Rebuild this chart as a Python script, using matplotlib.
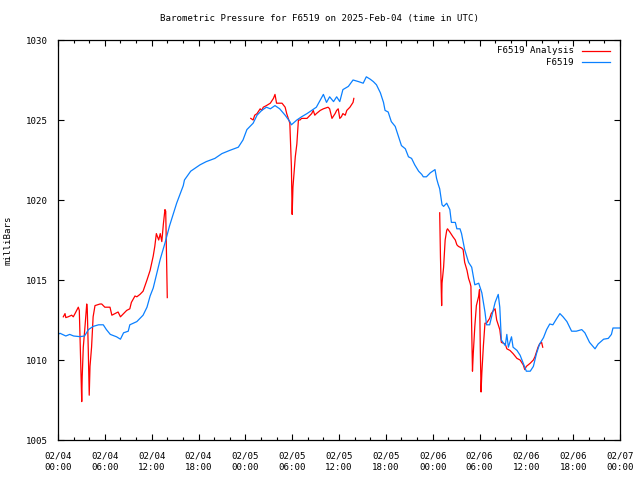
import matplotlib
matplotlib.use("Agg")
import matplotlib.pyplot as plt
import numpy as np

plt.rcParams['font.family'] = ['DejaVu Sans Mono']
plt.rcParams['font.size'] = 6.6

# hours since 02/04 00:00 UTC
blue_h = [0.0, 0.26, 1.0, 1.5, 2.0, 2.8, 3.4, 3.9, 4.5, 5.2, 5.8, 6.2, 6.7, 7.5, 8.0, 8.4,
          9.0, 9.2, 10.1, 10.9, 11.4, 11.8, 12.2, 12.6, 13.1, 13.7, 14.3, 15.2, 16.05, 16.2,
          17.0, 18.2, 19.0, 20.1, 21.0, 22.0, 23.1, 23.7, 24.2, 24.6, 25.0, 25.5, 26.1, 26.7,
          27.2, 27.8, 28.4, 29.1, 29.7, 29.9, 30.6, 31.2, 31.9, 32.5, 33.1, 33.6, 34.0, 34.4,
          34.8, 35.3, 35.7, 36.1, 36.5, 37.2, 37.8, 38.5, 39.1, 39.5, 40.0, 40.4, 40.8, 41.3,
          41.7, 41.9, 42.3, 42.7, 43.2, 43.6, 44.0, 44.5, 44.9, 45.3, 45.7, 46.2, 46.6, 46.8,
          47.2, 47.7, 48.3, 48.5, 48.7, 48.9, 49.2, 49.4, 49.8, 50.2, 50.4, 50.9, 51.1, 51.5,
          51.7, 52.1, 52.6, 53.0, 53.4, 53.9, 54.3, 54.7, 54.9, 55.3, 55.5, 56.0, 56.4, 56.6,
          56.8, 57.3, 57.5, 57.7, 58.1, 58.3, 58.8, 59.2, 59.6, 60.0, 60.5, 60.9, 61.3, 61.7,
          62.2, 62.6, 63.0, 63.4, 63.9, 64.3, 64.7, 65.2, 65.8, 66.4, 67.1, 67.5, 68.1, 68.8,
          69.2, 69.9, 70.5, 70.9, 71.1, 71.8, 72.0]
blue_p = [1011.6, 1011.67, 1011.5, 1011.6, 1011.5, 1011.46, 1011.5, 1011.9, 1012.1, 1012.2,
          1012.2, 1011.9, 1011.6, 1011.45, 1011.3, 1011.7, 1011.8, 1012.2, 1012.4, 1012.8,
          1013.3, 1014.0, 1014.5, 1015.3, 1016.3, 1017.3, 1018.4, 1019.8, 1020.9, 1021.25,
          1021.8, 1022.2, 1022.4, 1022.6, 1022.9, 1023.1, 1023.3, 1023.75, 1024.4, 1024.6,
          1024.8, 1025.3, 1025.6, 1025.8, 1025.7, 1025.9, 1025.7, 1025.3, 1024.9, 1024.7,
          1025.0, 1025.2, 1025.4, 1025.6, 1025.8, 1026.25, 1026.6, 1026.1, 1026.45, 1026.15,
          1026.45, 1026.15, 1026.9, 1027.1, 1027.5, 1027.4, 1027.3, 1027.7, 1027.55, 1027.4,
          1027.2, 1026.7, 1026.1, 1025.6, 1025.5, 1024.9, 1024.6, 1024.0, 1023.4, 1023.2,
          1022.7, 1022.6, 1022.2, 1021.8, 1021.6, 1021.45, 1021.45, 1021.7, 1021.9, 1021.35,
          1021.0, 1020.7, 1019.7, 1019.6, 1019.8, 1019.4, 1018.6, 1018.6, 1018.2, 1018.2,
          1017.9, 1016.9, 1016.1, 1015.8, 1014.7, 1014.8, 1014.2, 1013.0, 1012.2, 1012.2,
          1012.6, 1013.6, 1014.1, 1013.3, 1011.25, 1010.9, 1011.6, 1010.8, 1011.45, 1010.8,
          1010.6, 1010.3, 1009.8, 1009.3, 1009.3, 1009.6, 1010.4, 1011.0, 1011.4, 1011.9,
          1012.25, 1012.2, 1012.6, 1012.9, 1012.7, 1012.4, 1011.8, 1011.8, 1011.9, 1011.7,
          1011.1, 1010.7, 1011.0, 1011.3, 1011.35, 1011.6, 1012.0, 1012.0, 1012.0]

# analysis series, three runs with gaps between them
red_h1 = [0.68, 0.9, 1.0, 1.3, 1.75, 1.96, 2.18, 2.6, 2.73, 2.9, 3.04, 3.1, 3.24, 3.46, 3.68,
          3.75, 3.88, 4.0, 4.1, 4.3, 4.5, 4.74, 5.38, 5.6, 5.8, 6.0, 6.66, 6.9, 7.3, 7.7, 8.0,
          8.4, 8.8, 9.2, 9.4, 9.86, 10.1, 10.5, 10.9, 11.4, 11.8, 12.2, 12.4, 12.6, 12.9, 13.1,
          13.3, 13.5, 13.7, 13.8, 13.9, 14.0]
red_p1 = [1012.7, 1012.9, 1012.65, 1012.7, 1012.8, 1012.7, 1012.9, 1013.3, 1013.1, 1010.1,
          1007.4, 1008.95, 1010.8, 1012.1, 1013.5, 1013.2, 1010.6, 1007.8, 1009.6, 1010.8,
          1012.7, 1013.4, 1013.5, 1013.5, 1013.4, 1013.3, 1013.3, 1012.8, 1012.9, 1013.0,
          1012.7, 1012.9, 1013.1, 1013.2, 1013.6, 1014.0, 1013.95, 1014.1, 1014.3, 1015.0,
          1015.6, 1016.5, 1017.1, 1017.9, 1017.5, 1017.9, 1017.4, 1018.5, 1019.4, 1019.3,
          1016.7, 1013.9]
red_h2 = [24.7, 25.0, 25.2, 25.5, 25.9, 26.1, 26.3, 26.7, 27.2, 27.6, 27.8, 28.0, 28.7, 29.1,
          29.3, 29.5, 29.7, 29.9, 30.0, 30.1, 30.4, 30.6, 30.8, 31.0, 31.2, 31.9, 32.3, 32.5,
          32.7, 32.9, 33.1, 33.6, 34.0, 34.6, 34.8, 35.1, 35.5, 35.7, 35.9, 36.1, 36.3, 36.5,
          36.8, 37.0, 37.4, 37.8, 37.9]
red_p2 = [1025.1, 1025.0, 1025.3, 1025.4, 1025.7, 1025.6, 1025.8, 1025.9, 1026.05, 1026.35,
          1026.6, 1026.05, 1026.05, 1025.8, 1025.4, 1025.1, 1024.8, 1022.1, 1019.1, 1020.8,
          1022.7, 1023.5, 1025.0, 1025.0, 1025.1, 1025.1, 1025.3, 1025.4, 1025.6, 1025.3,
          1025.4, 1025.6, 1025.7, 1025.8, 1025.7, 1025.1, 1025.4, 1025.6, 1025.7, 1025.1,
          1025.2, 1025.4, 1025.3, 1025.6, 1025.8, 1026.1, 1026.35]
red_h3 = [48.9, 49.0, 49.15, 49.2, 49.4, 49.6, 49.8, 49.9, 50.2, 50.6, 50.9, 51.1, 51.3, 51.7,
          51.9, 52.1, 52.4, 52.6, 52.8, 52.9, 53.0, 53.1, 53.2, 53.4, 53.6, 53.9, 54.0, 54.1,
          54.2, 54.3, 54.5, 54.7, 54.9, 55.3, 55.5, 55.8, 56.0, 56.2, 56.6, 56.8, 57.3, 57.5,
          57.9, 58.3, 58.8, 59.2, 59.6, 59.8, 60.0, 60.5, 60.9, 61.1, 61.3, 61.5, 61.7, 61.96,
          62.1]
red_p3 = [1019.2, 1016.4, 1013.4, 1014.8, 1015.8, 1017.5, 1018.1, 1018.2, 1018.0, 1017.7,
          1017.5, 1017.2, 1017.1, 1017.0, 1016.9, 1016.1, 1015.6, 1015.1, 1014.8, 1014.6,
          1012.1, 1009.3, 1010.4, 1012.1, 1013.4, 1014.0, 1014.4, 1010.8, 1008.0, 1009.2,
          1010.9, 1012.3, 1012.3, 1012.6, 1012.9, 1013.1, 1013.2, 1012.5, 1011.9, 1011.1,
          1011.0, 1010.7, 1010.6, 1010.4, 1010.1, 1010.0, 1009.7, 1009.4, 1009.6, 1009.8,
          1010.0, 1010.2, 1010.5, 1010.8, 1011.0, 1011.1, 1010.8]

tick_labels = ['02/04\n00:00', '02/04\n06:00', '02/04\n12:00', '02/04\n18:00',
               '02/05\n00:00', '02/05\n06:00', '02/05\n12:00', '02/05\n18:00',
               '02/06\n00:00', '02/06\n06:00', '02/06\n12:00', '02/06\n18:00',
               '02/07\n00:00']

# join the runs with nan so the line breaks
red_h = red_h1 + [np.nan] + red_h2 + [np.nan] + red_h3
red_p = red_p1 + [np.nan] + red_p2 + [np.nan] + red_p3

fig = plt.figure(figsize=(6.4, 4.8), dpi=100)
ax = fig.add_axes([58 / 640, 40 / 480, 562 / 640, 400 / 480])

ax.plot(red_h, red_p, color='#ff0000', lw=0.9)
ax.plot(blue_h, blue_p, color='#0a80ff', lw=0.9)

ax.set_xlim(0, 72)
ax.set_ylim(1005, 1030)
ax.set_xticks(np.arange(0, 73, 6))
ax.set_xticklabels(tick_labels, linespacing=1.45)
ax.set_xticks(np.arange(0, 73, 2), minor=True)
ax.set_yticks(np.arange(1005, 1031, 5))
ax.tick_params(which='both', direction='in', top=True, right=True, width=0.8)
ax.tick_params(axis='x', pad=8)
ax.tick_params(axis='y', pad=7)
ax.tick_params(which='major', length=4)
ax.tick_params(which='minor', length=2)
for s in ax.spines.values():
    s.set_linewidth(0.9)

ax.set_ylabel('milliBars', labelpad=10)
fig.text(0.5, 1 - 19 / 480, 'Barometric Pressure for F6519 on 2025-Feb-04 (time in UTC)',
         ha='center', va='center')

# gnuplot style key: text right aligned, sample line after it
key = [('F6519 Analysis', '#ff0000', 0.973), ('F6519', '#0a80ff', 0.944)]
for lab, col, yy in key:
    ax.text(0.918, yy, lab, ha='right', va='center', transform=ax.transAxes)
    ax.plot([0.932, 0.982], [yy, yy], color=col, lw=0.9, transform=ax.transAxes)

fig.savefig('out.png', dpi=100)
